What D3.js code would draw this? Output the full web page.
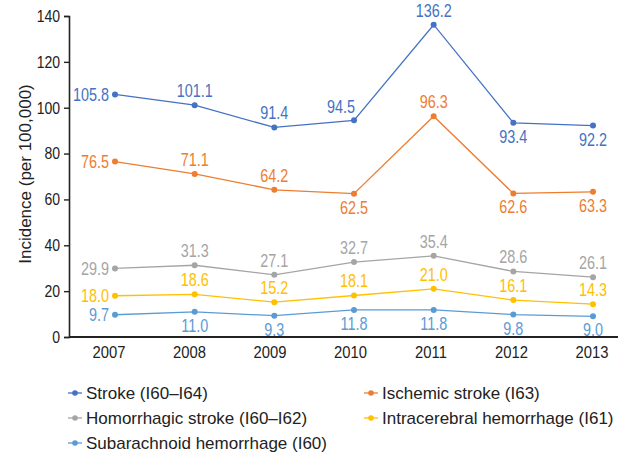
<!DOCTYPE html>
<html>
<head>
<meta charset="utf-8">
<script src="https://cdn.jsdelivr.net/npm/d3@7"></script>
<style>
  body { margin: 0; background: #fff; }
  text { font-family: "Liberation Sans", Arial, sans-serif; }
</style>
</head>
<body>
<div class="chart"></div>
<script>

var years = ["2007", "2008", "2009", "2010", "2011", "2012", "2013"];
var yTicks = [0, 20, 40, 60, 80, 100, 120, 140];

var strokeVals        = [105.8, 101.1, 91.4, 94.5, 136.2, 93.4, 92.2];
var ischemicVals      = [76.5, 71.1, 64.2, 62.5, 96.3, 62.6, 63.3];
var hemorrhagicVals   = [29.9, 31.3, 27.1, 32.7, 35.4, 28.6, 26.1];
var intracerebralVals = [18.0, 18.6, 15.2, 18.1, 21.0, 16.1, 14.3];
var subarachnoidVals  = [9.7, 11.0, 9.3, 11.8, 11.8, 9.8, 9.0];

var seriesNames = ["Stroke (I60\u2013I64)", "Ischemic stroke (I63)", "Homorrhagic stroke (I60\u2013I62)",
                   "Intracerebral hemorrhage (I61)", "Subarachnoid hemorrhage (I60)"];

// where each value label sits: L = left, A = above, B = below, AL = above shifted left
var labelPos = [
    ["L", "A", "A", "AL", "A", "B", "B"],
    ["L", "A", "A", "B", "A", "B", "B"],
    ["L", "A", "A", "A", "A", "A", "A"],
    ["L", "A", "A", "A", "A", "A", "A"],
    ["L", "B", "B", "B", "B", "B", "B"]
];

var colors = ["#4472c4", "#ed7d31", "#a5a5a5", "#ffc000", "#5b9bd5"];

var series = [strokeVals, ischemicVals, hemorrhagicVals, intracerebralVals, subarachnoidVals].map(function(v, i) {
    return {name: seriesNames[i], values: v, color: colors[i], pos: labelPos[i]};
});

var W = 628, H = 455;
var svg = d3.select(".chart").append("svg")
    .attr("width", W)
    .attr("height", H);

var x = d3.scalePoint()
    .domain(years)
    .range([115, 593]);

// year labels sit a touch left of the points in the original
var xLab = d3.scalePoint()
    .domain(years)
    .range([109, 592]);

var y = d3.scaleLinear()
    .domain([0, 140])
    .range([337, 16]);

// narrow text: translate then squeeze horizontally
function squeeze(px, py, s) {
    return "translate(" + px + "," + py + ") scale(" + s + ",1)";
}

// y axis
var yAxis = svg.append("g")
    .attr("transform", "translate(69,0)")
    .call(d3.axisLeft(y).tickValues(yTicks).tickSize(5).tickPadding(3));
yAxis.select(".domain").attr("stroke", "#222").attr("stroke-width", 1.6);
yAxis.selectAll(".tick line").attr("stroke", "#222").attr("stroke-width", 1.4);
yAxis.selectAll(".tick text")
    .attr("font-size", 16.5)
    .attr("font-family", null)
    .attr("fill", "#222")
    .attr("x", -9 / 0.85)
    .attr("transform", "scale(0.85,1)");

// x axis line
svg.append("line")
    .attr("x1", 69).attr("x2", 618)
    .attr("y1", y(0)).attr("y2", y(0))
    .attr("stroke", "#222").attr("stroke-width", 2);

svg.selectAll(".year")
    .data(years)
    .enter().append("text")
    .attr("class", "year")
    .attr("transform", function(d) { return squeeze(xLab(d), 358, 0.87); })
    .attr("text-anchor", "middle")
    .attr("font-size", 17)
    .attr("fill", "#222")
    .text(function(d) { return d; });

// y title
svg.append("text")
    .attr("transform", "translate(31,174) rotate(-90)")
    .attr("text-anchor", "middle")
    .attr("font-size", 17)
    .attr("fill", "#222")
    .text("Incidence (per 100,000)");

var line = d3.line()
    .x(function(d, i) { return x(years[i]); })
    .y(function(d) { return y(d); });

series.forEach(function(s) {
    var g = svg.append("g");

    g.append("path")
        .datum(s.values)
        .attr("fill", "none")
        .attr("stroke", s.color)
        .attr("stroke-width", 1.3)
        .attr("d", line);

    g.selectAll("circle")
        .data(s.values)
        .enter().append("circle")
        .attr("cx", function(d, i) { return x(years[i]); })
        .attr("cy", function(d) { return y(d); })
        .attr("r", 3)
        .attr("fill", s.color);

    g.selectAll("text")
        .data(s.values)
        .enter().append("text")
        .attr("font-size", 18)
        .attr("fill", s.color)
        .attr("text-anchor", function(d, i) { return s.pos[i] == "L" ? "end" : "middle"; })
        .attr("transform", function(d, i) {
            var p = s.pos[i], px = x(years[i]), py = y(d) - 8;
            if (p == "L") { px -= 6; py = y(d) + 6.5; }
            if (p == "AL") { px -= 13; py = y(d) - 7; }
            if (p == "B") py = y(d) + 20;
            return squeeze(px, py, 0.8);
        })
        .text(function(d) { return d.toFixed(1); });
});

// legend
var legendX = [75, 371];
var legendY = [393, 418, 443];

var legend = svg.selectAll(".legend")
    .data(series)
    .enter().append("g")
    .attr("class", "legend")
    .attr("transform", function(d, i) {
        return "translate(" + legendX[i % 2] + "," + legendY[Math.floor(i / 2)] + ")";
    });

legend.append("line")
    .attr("x1", -7).attr("x2", 7)
    .attr("stroke", function(d) { return d.color; })
    .attr("stroke-width", 1.3);

legend.append("circle")
    .attr("r", 2.8)
    .attr("fill", function(d) { return d.color; });

legend.append("text")
    .attr("x", 11)
    .attr("y", 6)
    .attr("font-size", 17)
    .attr("fill", "#222")
    .text(function(d) { return d.name; });

</script>
</body>
</html>
